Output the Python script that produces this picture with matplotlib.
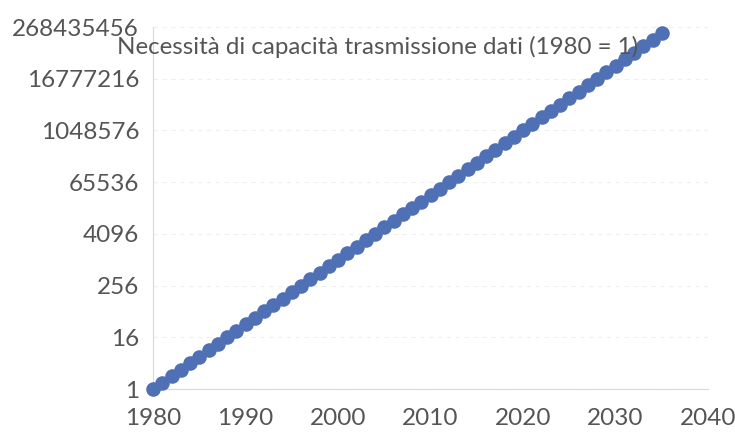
import matplotlib
matplotlib.use("Agg")
import matplotlib.pyplot as plt
from matplotlib.ticker import FixedLocator, NullLocator

# data: capacity doubles roughly every two years
years = list(range(1980, 2036))
capacity = [
    1, 1.414, 2, 2.828, 4, 5.657, 8, 11.31, 16, 22.63,
    32, 45.25, 64, 90.51, 128, 181.0, 256, 362.0, 512, 724.1,
    1024, 1448, 2048, 2896, 4096, 5793, 8192, 11585, 16384, 23170,
    32768, 46341, 65536, 92682, 131072, 185364, 262144, 370728, 524288, 741455,
    1048576, 1482910, 2097152, 2965821, 4194304, 5931642, 8388608, 11863283,
    16777216, 23726566, 33554432, 47453133, 67108864, 94906266, 134217728,
    189812531,
]
y_ticks = [1, 16, 256, 4096, 65536, 1048576, 16777216, 268435456]
x_ticks = [1980, 1990, 2000, 2010, 2020, 2030, 2040]
title = "Necessità di capacità trasmissione dati (1980 = 1)"

plt.rcParams['font.family'] = ['Lato', 'DejaVu Sans']
text_color = '#555555'
line_color = '#4f70b5'

fig = plt.figure(figsize=(7.35, 4.36), dpi=100)
ax = fig.add_axes([153 / 735, 1 - 389 / 436, 555 / 735, 362 / 436])

ax.plot(years, capacity, '-o', color=line_color, markersize=10.5,
        markeredgewidth=0, linewidth=2, zorder=3, clip_on=False)

ax.set_yscale('log', base=2)
ax.set_xlim(1980, 2040)
ax.set_ylim(1, 268435456)
ax.yaxis.set_major_locator(FixedLocator(y_ticks))
ax.yaxis.set_minor_locator(NullLocator())
ax.set_yticklabels([str(v) for v in y_ticks])
ax.xaxis.set_major_locator(FixedLocator(x_ticks))
ax.set_xticklabels([str(v) for v in x_ticks])

ax.tick_params(axis='both', length=0, labelsize=17.5, colors=text_color)
ax.tick_params(axis='y', pad=10)
ax.tick_params(axis='x', pad=14)

# faint dashed gridlines like the scanned Excel chart
ax.grid(True, axis='y', color='#efefef', linestyle=(0, (4, 4)), linewidth=0.8)
for side in ('top', 'right'):
    ax.spines[side].set_visible(False)
for side in ('left', 'bottom'):
    ax.spines[side].set_color('#d8d8d8')
    ax.spines[side].set_linewidth(0.8)

fig.text(378 / 735, 1 - 47 / 436, title, ha='center', va='center',
         fontsize=17.4, color=text_color, zorder=5)

fig.savefig('out.png', dpi=100)
